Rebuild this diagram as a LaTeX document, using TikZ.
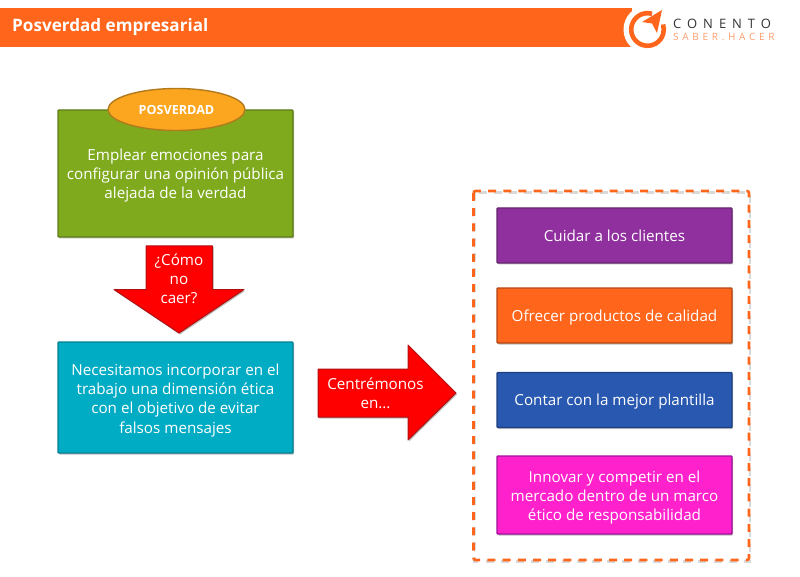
\documentclass[tikz,border=0pt]{standalone}
\usepackage{fontspec}
\setmainfont{Open Sans}
\usetikzlibrary{shadows,shapes.geometric}
\definecolor{barO}{HTML}{FF661C}
\definecolor{grn}{HTML}{7FAA1E}
\definecolor{grnD}{HTML}{5E7D1A}
\definecolor{yel}{HTML}{FBA61E}
\definecolor{yelD}{HTML}{B27A1C}
\definecolor{cyn}{HTML}{00ABC4}
\definecolor{cynD}{HTML}{007F92}
\definecolor{pur}{HTML}{90309F}
\definecolor{purD}{HTML}{66256F}
\definecolor{blu}{HTML}{2858B0}
\definecolor{bluD}{HTML}{1D4080}
\definecolor{mag}{HTML}{FF22CC}
\definecolor{magD}{HTML}{A0109A}
\definecolor{redD}{HTML}{B01010}
\newcommand{\lowerby}[2]{\raisebox{-#1}[\height][\depth]{\begin{tabular}{@{}c@{}}#2\end{tabular}}}
\tikzset{x=1pt,y=-1pt,
 softshadow/.style={drop shadow={shadow xshift=1pt,shadow yshift=-1.5pt,opacity=.25,fill=black}},
 flowbox/.style={rectangle,draw,line width=1.4pt,text=white,align=center,font=\fontsize{15.2}{19.2}\selectfont,inner sep=0pt,softshadow,rounded corners=.8pt},
 arrowtext/.style={text=white,align=center,font=\fontsize{15.2}{19}\selectfont,inner sep=0pt},
 bigarrow/.style={fill=red,draw=redD,line width=1pt,line join=round,softshadow}}
\begin{document}
\begin{tikzpicture}
\useasboundingbox (0,0) rectangle (800,577);
% header
\fill[barO] (0,8) rectangle (632,47);
\node[anchor=west,text=white,inner sep=0pt,font=\fontsize{17.1}{20}\selectfont\bfseries] (title) at (12,27.5) {Posverdad empresarial};
% logo
\fill[white] (647.5,29.5) circle (24);
\draw[barO,line width=4.6pt] (652,13.8) arc (-74:-378:16.3);
\fill[barO] (662,10) -- (657,33) -- (652,23.5) -- (642,22) -- cycle;
\node[anchor=west,text=black!80,inner sep=0pt,font=\fontsize{13}{15}\selectfont] (logoa) at (673,24) {\addfontfeature{LetterSpace=46}CONENTO};
\node[anchor=west,text=barO!65,inner sep=0pt,font=\fontsize{10}{12}\selectfont] (logob) at (673,37) {\addfontfeature{LetterSpace=37}SABER.HACER};
% left column
\node[flowbox,fill=grn,draw=grnD,minimum width=235pt,minimum height=127pt] (green) at (175.5,173.5) {\lowerby{2pt}{Emplear emociones para\\configurar una opinión pública\\alejada de la verdad}};
\node[ellipse,fill=yel,draw=yelD,line width=1.4pt,minimum width=137pt,minimum height=42pt,inner sep=0pt,text=white,font=\fontsize{12.6}{14}\selectfont\bfseries] (ell) at (176.5,109.5) {POSVERDAD};
\draw[bigarrow] (146,246) -- (212.5,246) -- (212.5,289.5) -- (244,289.5) -- (179,333) -- (114,289.5) -- (146,289.5) -- cycle;
\node[arrowtext] (como) at (179,279) {¿Cómo\\no\\caer?};
\node[flowbox,fill=cyn,draw=cynD,minimum width=235pt,minimum height=111pt] (cyan) at (175.5,397.5) {\lowerby{3pt}{Necesitamos incorporar en el\\trabajo una dimensión ética\\con el objetivo de evitar\\falsos mensajes}};
\draw[bigarrow] (318,369) -- (408,369) -- (408,345) -- (456,393) -- (408,440) -- (408,417) -- (318,417) -- cycle;
\node[arrowtext] (cent) at (375.5,393) {Centrémonos\\en...};
% right column
\draw[black,opacity=.15,line width=2.6pt,dash pattern=on 8pt off 7.2pt] (474.5,192.5) rectangle (750,561.5);
\draw[barO,line width=2.6pt,dash pattern=on 8pt off 7.2pt,rounded corners=2pt] (473.5,191) rectangle (749,560);
\node[flowbox,fill=pur,draw=purD,minimum width=235pt,minimum height=55pt] (b1) at (614.5,235.5) {Cuidar a los clientes};
\node[flowbox,fill=barO,draw=barO!70!black,minimum width=235pt,minimum height=55pt] (b2) at (614.5,315.5) {\lowerby{2pt}{Ofrecer productos de calidad}};
\node[flowbox,fill=blu,draw=bluD,minimum width=235pt,minimum height=55pt] (b3) at (614.5,400) {\lowerby{2pt}{Contar con la mejor plantilla}};
\node[flowbox,fill=mag,draw=magD,minimum width=235pt,minimum height=78pt] (b4) at (614.5,495) {\lowerby{2.5pt}{Innovar y competir en el\\mercado dentro de un marco\\ético de responsabilidad}};
\end{tikzpicture}
\end{document}
